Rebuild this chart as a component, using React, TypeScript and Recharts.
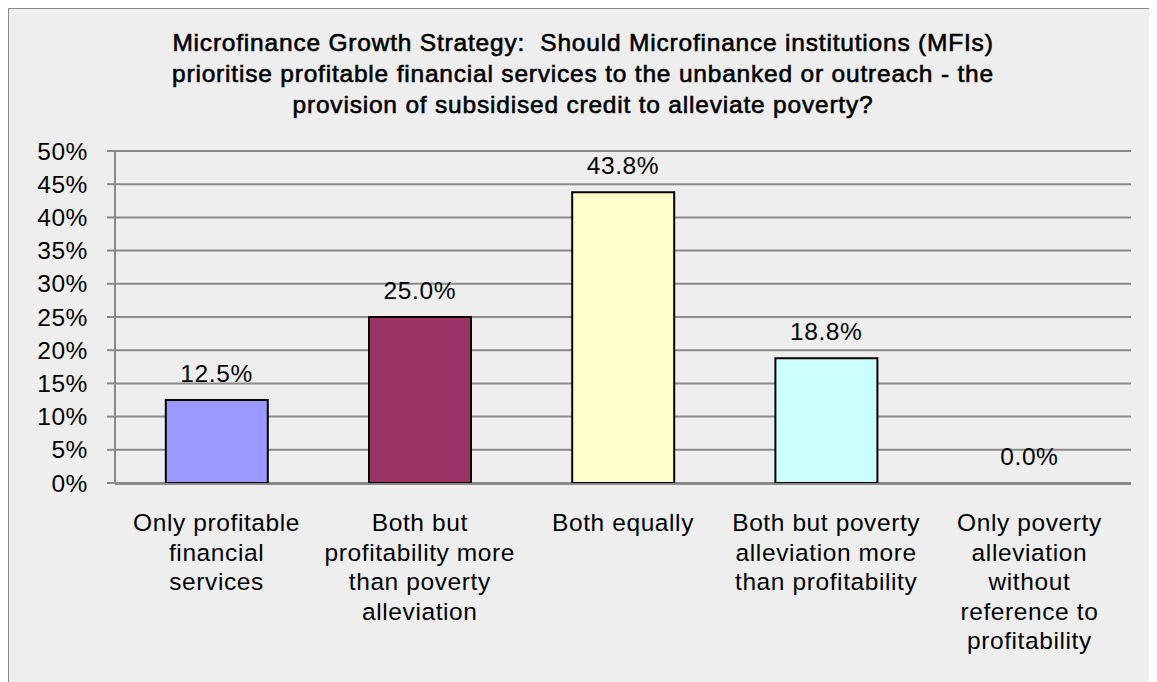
import React from 'react';
import { ComposedChart, Bar, Line, XAxis, YAxis, CartesianGrid, Cell, LabelList } from 'recharts';

const categories = [
  'Only profitable\nfinancial\nservices',
  'Both but\nprofitability more\nthan poverty\nalleviation',
  'Both equally',
  'Both but poverty\nalleviation more\nthan profitability',
  'Only poverty\nalleviation\nwithout\nreference to\nprofitability',
];
const shares = [0.125, 0.25, 0.438, 0.188, 0];
const barColors = ['#9999FF', '#993366', '#FFFFCC', '#CCFFFF', '#FFFFFF'];
const yTicks = [0, 0.05, 0.1, 0.15, 0.2, 0.25, 0.3, 0.35, 0.4, 0.45, 0.5];
const edgeTicks = [0, 1, 2, 3, 4, 5];

const titleLines = [
  'Microfinance Growth Strategy:  Should Microfinance institutions (MFIs)',
  'prioritise profitable financial services to the unbanked or outreach - the',
  'provision of subsidised credit to alleviate poverty?',
];

const data = categories.map((name, i) => ({ name, share: shares[i] }));

const FONT = '"Liberation Sans", Arial, sans-serif';
const GRID = '#8A8A8A';
const FS = 24.5;
const LS = 0.6;

// multi-line category label
const CategoryTick = (props: any) => {
  const { x, y, payload } = props;
  const lines = String(payload.value).split('\n');
  return (
    <text x={x} y={y} textAnchor="middle" fontFamily={FONT} fontSize={FS} letterSpacing={LS} fill="#000">
      {lines.map((ln, i) => (
        <tspan key={i} x={x} dy={i === 0 ? 40 : 29.5}>
          {ln}
        </tspan>
      ))}
    </text>
  );
};

export default function App() {
  return (
    <div
      style={{
        position: 'relative',
        margin: '-1px 0 0 -1px',
        width: 1160,
        height: 690,
        background: '#EEEEEE',
        border: '2px solid #8C8C8C',
        boxSizing: 'border-box',
        fontFamily: FONT,
        overflow: 'hidden',
      }}
    >
      <div
        style={{
          position: 'absolute',
          left: 0,
          top: 18,
          width: 1148,
          textAlign: 'center',
          fontSize: FS,
          letterSpacing: 0.8,
          lineHeight: '31px',
          whiteSpace: 'pre',
          color: '#000',
          WebkitTextStroke: '0.6px #000',
        }}
      >
        {titleLines.map((t, i) => (
          <div key={i}>{t}</div>
        ))}
      </div>
      <div style={{ position: 'absolute', left: -2, top: -2 }}>
        <ComposedChart
          width={1143}
          height={690}
          data={data}
          margin={{ top: 144, right: 19, bottom: 212, left: 0 }}
          barCategoryGap="25%"
        >
          <CartesianGrid vertical={false} stroke={GRID} strokeWidth={2} />
          <XAxis
            xAxisId="edges"
            type="number"
            domain={[0, 5]}
            ticks={edgeTicks}
            tick={false}
            tickSize={7}
            tickLine={{ stroke: GRID, strokeWidth: 2 }}
            axisLine={{ stroke: GRID, strokeWidth: 2 }}
            height={1}
          />
          <XAxis
            dataKey="name"
            interval={0}
            tick={<CategoryTick />}
            tickLine={false}
            axisLine={false}
            height={1}
          />
          <YAxis
            domain={[0, 0.5]}
            ticks={yTicks}
            width={108}
            tickSize={8}
            tickMargin={19}
            tickFormatter={(v: number) => `${Math.round(v * 100)}%`}
            tick={{ fill: '#000', fontSize: FS, fontFamily: FONT, letterSpacing: LS }}
            tickLine={{ stroke: GRID, strokeWidth: 2 }}
            axisLine={{ stroke: GRID, strokeWidth: 2 }}
          />
          <Bar dataKey="share" stroke="#000" strokeWidth={2} isAnimationActive={false}>
            {data.map((d, i) => (
              <Cell key={i} fill={barColors[i]} />
            ))}
          </Bar>
          <Line
            dataKey="share"
            stroke="none"
            dot={false}
            activeDot={false}
            legendType="none"
            isAnimationActive={false}
          >
            <LabelList
              dataKey="share"
              position="top"
              offset={18}
              formatter={(v: any) => `${(Number(v) * 100).toFixed(1)}%`}
              style={{ fill: '#000', fontSize: FS, fontFamily: FONT, letterSpacing: LS }}
            />
          </Line>
        </ComposedChart>
      </div>
    </div>
  );
}
